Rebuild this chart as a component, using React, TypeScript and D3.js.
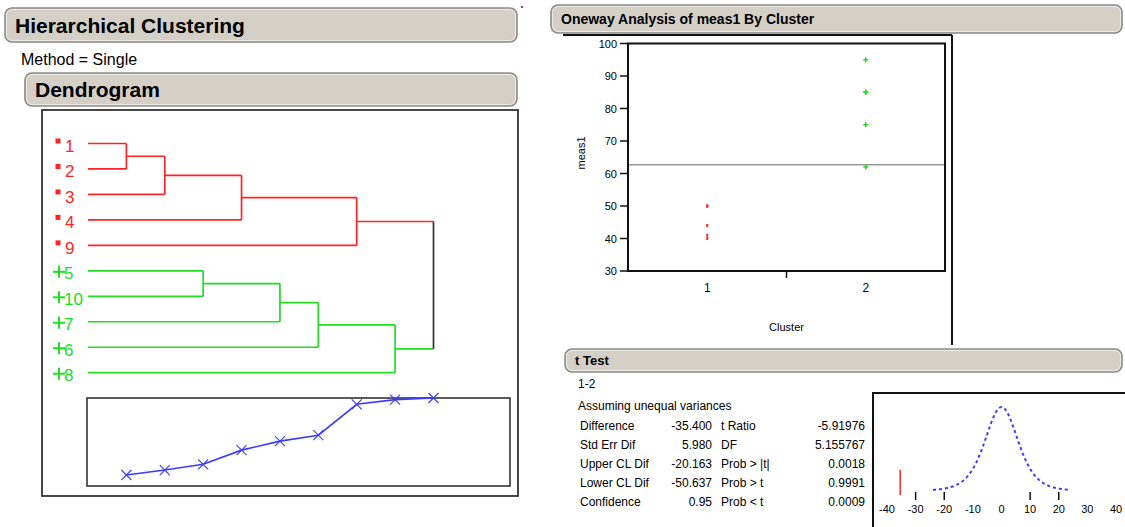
import React from "react";
import * as d3 from "d3";

// ---- Dendrogram data ----
const leafLabels = ["1", "2", "3", "4", "9", "5", "10", "7", "6", "8"];
const leafCluster = [1, 1, 1, 1, 1, 2, 2, 2, 2, 2];
// join k (1-based) creates node "n{k}"
const joinLeft = ["1", "n1", "5", "n2", "n3", "n5", "n4", "n6", "n7"];
const joinRight = ["2", "3", "10", "4", "7", "6", "9", "8", "n8"];
const joinDistance = [1.0, 1.45, 1.97, 3.26, 4.08, 4.62, 7.43, 7.85, 8.0];

// ---- Oneway data ----
const clusterNames = ["1", "2"];
const group1Values = [40, 41, 44, 50, 50];
const group2Values = [62, 75, 85, 85, 95];
const yTicks = [30, 40, 50, 60, 70, 80, 90, 100];

// ---- t test table ----
const tLeftLabels = ["Difference", "Std Err Dif", "Upper CL Dif", "Lower CL Dif", "Confidence"];
const tRightLabels = ["t Ratio", "DF", "Prob > |t|", "Prob > t", "Prob < t"];
const tUpperCL = "-20.163";
const tLowerCL = "-50.637";
const tConfidence = "0.95";
const tRatioText = "-5.91976";
const tDFText = "5.155767";
const tProbs = ["0.0018", "0.9991", "0.0009"];
const tAxisTicks = [-40, -30, -20, -10, 0, 10, 20, 30, 40];
const tAxisMarks = [-30, -20, 10, 20];

const RED = "#ff2424";
const GREEN = "#22dd22";
const DARK = "#333";
const BLUE = "#3b3bff";
const FONT = "'Liberation Sans', Arial, sans-serif";

function HeaderBar({ x, y, w, h, label, size, bold = true }: any) {
  return (
    <g>
      <rect x={x} y={y} width={w} height={h} rx={7} ry={7} fill="#d4d0c8" stroke="#8c8c8c" strokeWidth={1.6} />
      <rect x={x + 1.5} y={y + 1.5} width={w - 3} height={h - 3} rx={6} ry={6} fill="none" stroke="#eeeae4" strokeWidth={1} />
      <text x={x + 10} y={y + h / 2 + size * 0.36} fontSize={size} fontWeight={bold ? "bold" : "normal"} fontFamily={FONT} fill="#000">
        {label}
      </text>
    </g>
  );
}

export default function App() {
  // ----- dendrogram geometry -----
  const xStep = d3.scaleLinear().domain([0, 9]).range([88, 433.5]);
  const yLeaf = d3.scaleLinear().domain([0, 9]).range([143.5, 372.7]);
  const clusterColor = (c: number) => (c === 1 ? RED : c === 2 ? GREEN : DARK);

  const nodes: Record<string, { x: number; y: number; c: number }> = {};
  leafLabels.forEach((l, i) => {
    nodes[l] = { x: xStep(0), y: yLeaf(i), c: leafCluster[i] };
  });
  const segs: { x1: number; y1: number; x2: number; y2: number; color: string }[] = [];
  joinLeft.forEach((a, i) => {
    const b = joinRight[i];
    const na = nodes[a];
    const nb = nodes[b];
    const x = xStep(i + 1);
    const c = na.c === nb.c ? na.c : 0;
    nodes[`n${i + 1}`] = { x, y: (na.y + nb.y) / 2, c };
    segs.push({ x1: na.x, y1: na.y, x2: x, y2: na.y, color: clusterColor(na.c) });
    segs.push({ x1: nb.x, y1: nb.y, x2: x, y2: nb.y, color: clusterColor(nb.c) });
    segs.push({ x1: x, y1: na.y, x2: x, y2: nb.y, color: clusterColor(c) });
  });

  // scree plot
  const screeBox = { x: 87, y: 398, w: 423, h: 88 };
  const yScree = d3.scaleLinear().domain([0, d3.max(joinDistance) as number]).range([screeBox.y + screeBox.h, screeBox.y]);
  const screeLine = d3
    .line<number>()
    .x((_, i) => xStep(i + 1))
    .y((d) => yScree(d))(joinDistance);

  // ----- oneway plot -----
  const box = { x0: 628, x1: 945, y0: 43.5, y1: 271 };
  const yOne = d3.scaleLinear().domain([30, 100]).range([box.y1, box.y0]);
  const xOne = d3.scaleBand().domain(clusterNames).range([box.x0, box.x1]).padding(0);
  const cx = (n: string) => (xOne(n) as number) + xOne.bandwidth() / 2;
  const allValues = group1Values.concat(group2Values);
  const grandMean = d3.mean(allValues) as number;

  // t test numbers
  const m1 = d3.mean(group1Values) as number;
  const m2 = d3.mean(group2Values) as number;
  const diff = m1 - m2;
  const v1 = d3.variance(group1Values) as number;
  const v2 = d3.variance(group2Values) as number;
  const se = Math.sqrt(v1 / group1Values.length + v2 / group2Values.length);
  const df = parseFloat(tDFText);
  const tLeftValues = [diff.toFixed(3), se.toFixed(3), tUpperCL, tLowerCL, tConfidence];
  const tRightValues = [tRatioText, tDFText, ...tProbs];

  // t distribution plot
  const xT = d3.scaleLinear().domain([-40, 40]).range([887, 1116]);
  const tBase = 491;
  const tPeak = 407;
  const tDens = (t: number) => Math.pow(1 + (t * t) / df, -(df + 1) / 2);
  const tGrid = d3.range(-4, 4.0001, 0.05);
  const tCurve = d3
    .line<number>()
    .x((t) => xT(t * se))
    .y((t) => tBase - (tBase - tPeak) * tDens(t))(tGrid);

  const rowY = d3.range(5).map((i) => 430 + i * 19);

  return (
    <svg width={1125} height={527} style={{ position: "absolute", left: 0, top: 0, background: "#fff" }} fontFamily={FONT}>
      <rect x={0} y={0} width={1125} height={527} fill="#fff" />
      <rect x={521} y={6} width={2} height={2} fill="#c020c0" />

      {/* ===== Hierarchical clustering ===== */}
      <HeaderBar x={5} y={8} w={512} h={34} label="Hierarchical Clustering" size={21} />
      <text x={21} y={65} fontSize={16} fill="#000">Method = Single</text>
      <HeaderBar x={25} y={73} w={492} h={33} label="Dendrogram" size={21} />

      <rect x={42} y={110} width={476} height={386} fill="#fff" stroke={DARK} strokeWidth={1.8} />

      {segs.map((s, i) => (
        <line key={i} x1={s.x1} y1={s.y1} x2={s.x2} y2={s.y2} stroke={s.color} strokeWidth={1.7} />
      ))}

      {leafLabels.map((l, i) => {
        const y = yLeaf(i);
        const c = leafCluster[i];
        return (
          <g key={l}>
            {c === 1 ? (
              <rect x={55.5} y={y - 5} width={5} height={5} fill={RED} />
            ) : (
              <g stroke={GREEN} strokeWidth={2}>
                <line x1={53} y1={y + 1} x2={65} y2={y + 1} />
                <line x1={59} y1={y - 5} x2={59} y2={y + 7} />
              </g>
            )}
            <text x={c === 1 ? 65 : 64} y={y + 8.5} fontSize={17} fill={clusterColor(c)}>
              {l}
            </text>
          </g>
        );
      })}

      <rect x={screeBox.x} y={screeBox.y} width={screeBox.w} height={screeBox.h} fill="none" stroke={DARK} strokeWidth={1.6} />
      <path d={screeLine as string} fill="none" stroke={BLUE} strokeWidth={1.6} />
      {joinDistance.map((d, i) => {
        const x = xStep(i + 1);
        const y = yScree(d);
        return (
          <g key={i} stroke={BLUE} strokeWidth={1.1}>
            <line x1={x - 5} y1={y - 5} x2={x + 5} y2={y + 5} />
            <line x1={x - 5} y1={y + 5} x2={x + 5} y2={y - 5} />
          </g>
        );
      })}

      {/* ===== Oneway analysis ===== */}
      <HeaderBar x={551} y={5} w={571} h={28} label="Oneway Analysis of meas1 By Cluster" size={14} />
      <line x1={563} y1={35} x2={952} y2={35} stroke="#111" strokeWidth={2} />
      <line x1={952} y1={35} x2={952} y2={345} stroke="#111" strokeWidth={2} />

      <rect x={box.x0} y={box.y0} width={box.x1 - box.x0} height={box.y1 - box.y0} fill="#fff" stroke="#111" strokeWidth={2} />
      {yTicks.map((t) => (
        <g key={t}>
          <line x1={620} x2={box.x0} y1={yOne(t)} y2={yOne(t)} stroke="#111" strokeWidth={1.5} />
          <text x={617} y={yOne(t) + 4} fontSize={11} textAnchor="end" fill="#000">
            {t}
          </text>
        </g>
      ))}
      <text transform={`translate(585,153) rotate(-90)`} fontSize={11} textAnchor="middle" fill="#000">
        meas1
      </text>
      <line x1={box.x0 + 1} x2={box.x1 - 1} y1={yOne(grandMean)} y2={yOne(grandMean)} stroke="#999" strokeWidth={1.5} />
      <line x1={(box.x0 + box.x1) / 2} x2={(box.x0 + box.x1) / 2} y1={box.y1} y2={box.y1 + 7} stroke="#111" strokeWidth={1.5} />
      {clusterNames.map((n) => (
        <text key={n} x={cx(n)} y={292} fontSize={12} textAnchor="middle" fill="#000">
          {n}
        </text>
      ))}
      <text x={(box.x0 + box.x1) / 2} y={331} fontSize={11} textAnchor="middle" fill="#000">Cluster</text>

      {group1Values.map((v, i) => (
        <rect key={`r${i}`} x={cx("1") - 1} y={yOne(v) - 1.5} width={2} height={3} fill={RED} />
      ))}
      {group2Values.map((v, i) => (
        <g key={`g${i}`} stroke={GREEN} strokeWidth={1.5}>
          <line x1={cx("2") - 2.5} x2={cx("2") + 2.5} y1={yOne(v)} y2={yOne(v)} />
          <line x1={cx("2")} x2={cx("2")} y1={yOne(v) - 2.5} y2={yOne(v) + 2.5} />
        </g>
      ))}

      {/* ===== t test ===== */}
      <HeaderBar x={565} y={349} w={557} h={23} label="t Test" size={13} />
      <text x={578} y={388} fontSize={12} fill="#000">1-2</text>
      <text x={578} y={410} fontSize={12} fill="#000">Assuming unequal variances</text>
      {rowY.map((y, i) => (
        <g key={i} fontSize={12} fill="#000">
          <text x={580} y={y}>{tLeftLabels[i]}</text>
          <text x={712} y={y} textAnchor="end">{tLeftValues[i]}</text>
          <text x={721} y={y}>{tRightLabels[i]}</text>
          <text x={865} y={y} textAnchor="end">{tRightValues[i]}</text>
        </g>
      ))}

      <rect x={873} y={393} width={270} height={150} fill="#fff" stroke="#111" strokeWidth={2} />
      <path d={tCurve as string} fill="none" stroke={BLUE} strokeWidth={2} strokeDasharray="3,3" />
      <line x1={xT(diff)} x2={xT(diff)} y1={470} y2={495} stroke={RED} strokeWidth={1.5} />
      {tAxisMarks.map((m) => (
        <line key={m} x1={xT(m)} x2={xT(m)} y1={492} y2={500} stroke="#111" strokeWidth={1.5} />
      ))}
      {tAxisTicks.map((t) => (
        <text key={t} x={xT(t)} y={513} fontSize={11} textAnchor="middle" fill="#000">
          {t}
        </text>
      ))}
    </svg>
  );
}
